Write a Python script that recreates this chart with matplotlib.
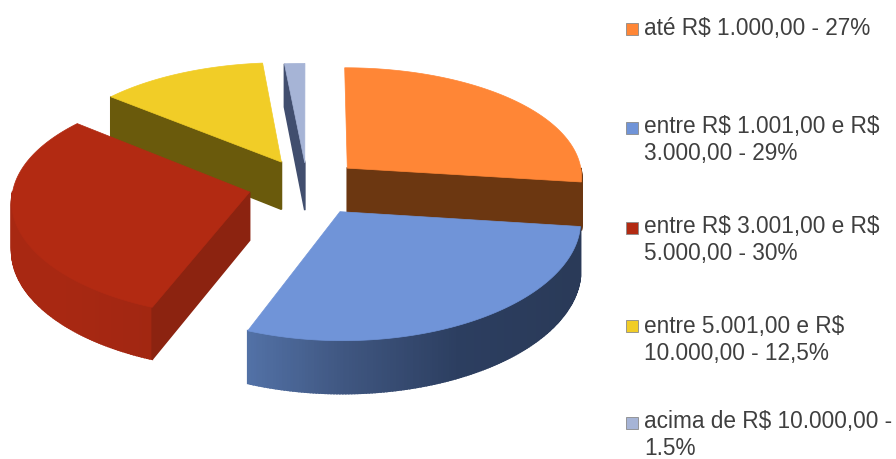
import numpy as np
import matplotlib
matplotlib.use("Agg")
import matplotlib.pyplot as plt
from matplotlib.colors import LinearSegmentedColormap
from matplotlib.patches import Polygon, Rectangle

plt.rcParams['font.family'] = ['Liberation Sans', 'DejaVu Sans']

# pie data
labels = ["até R$ 1.000,00 - 27%",
          "entre R$ 1.001,00 e R$\n3.000,00 - 29%",
          "entre R$ 3.001,00 e R$\n5.000,00 - 30%",
          "entre 5.001,00 e R$\n10.000,00 - 12,5%",
          "acima de R$ 10.000,00 -\n1.5%"]
values = [27, 29, 30, 12.5, 1.5]

# colours of each slice
top_colors = ["#FF8636", "#7094D8", "#B22A12", "#F1CD27", "#A6B4D6"]
cut_colors = ["#6C3711", "#445A85", "#8C2310", "#6A5A0C", "#414E6E"]
wall_colors = [["#6C3711", "#6C3711"],
               [(0, "#6B8AC4"), (0.37, "#5271A6"), (0.55, "#3F5680"), (0.76, "#2C3E60"), (1, "#2A3A58")],
               ["#A82812", "#86220F"],
               ["#6A5A0C", "#6A5A0C"],
               ["#414E6E", "#414E6E"]]

# how far each slice is pulled out of the pie
explode = [0.23, 0.27, 0.25, 0.235, 0.2]
draw_order = [4, 3, 0, 2, 1]
legend_y = [17, 115, 215, 315, 410]
square_y = [23, 122, 222, 320, 417]

# pie geometry in pixels
cx, cy = 307, 185
rx, ry = 236, 112.3
persp = 0.09
persp_x = 0.07


def project(u, v, down=False):
    x = cx + rx * u / (1 + persp_x * v)
    y = cy - ry * v / (1 + persp * v)
    if down:
        y = y + 48 - 4 * v
    return x, y


def rim(apex, theta):
    return apex[0] + np.sin(theta), apex[1] + np.cos(theta)


def quad(ax, p1, p2, color):
    a = project(*p1)
    b = project(*p2)
    c = project(*p2, down=True)
    d = project(*p1, down=True)
    ax.add_patch(Polygon([a, b, c, d], closed=True, fc=color, ec=color, lw=1.2))


fig = plt.figure(figsize=(8.96, 4.59), dpi=100)
ax = fig.add_axes([0, 0, 1, 1])
ax.set_xlim(0, 896)
ax.set_ylim(459, 0)
ax.axis("off")

fractions = np.array(values) / sum(values)
edges = np.concatenate([[0], np.cumsum(fractions)]) * 2 * np.pi

for i in draw_order:
    t1, t2 = edges[i], edges[i + 1]
    mid = (t1 + t2) / 2
    apex = (explode[i] * np.sin(mid), explode[i] * np.cos(mid))
    thetas = np.linspace(t1, t2, 160)
    cmap = LinearSegmentedColormap.from_list("wall", wall_colors[i])

    # outer wall, only the part facing the viewer
    for a, b in zip(thetas[:-1], thetas[1:]):
        if np.cos((a + b) / 2) < 0:
            u = rim(apex, a)[0]
            color = cmap(np.clip((u + 1.0) / 2.1, 0, 1))
            quad(ax, rim(apex, a), rim(apex, b), color)

    # flat cut faces
    if np.sin(t1) < 0:
        quad(ax, apex, rim(apex, t1), cut_colors[i])
    if np.sin(t2) > 0:
        quad(ax, apex, rim(apex, t2), cut_colors[i])

    # top of the slice
    pts = [project(*apex)] + [project(*rim(apex, t)) for t in thetas]
    ax.add_patch(Polygon(pts, closed=True, fc=top_colors[i], ec=top_colors[i], lw=0.5))

# legend
for i, label in enumerate(labels):
    ax.add_patch(Rectangle((626, square_y[i]), 12, 12, fc=top_colors[i], ec="#8a8a8a", lw=0.6))
    ax.text(644, legend_y[i], label, fontsize=16.3, color="#3f3f3f", va="top", ha="left",
            linespacing=1.2, parse_math=False)

fig.savefig("out.png", dpi=100)
